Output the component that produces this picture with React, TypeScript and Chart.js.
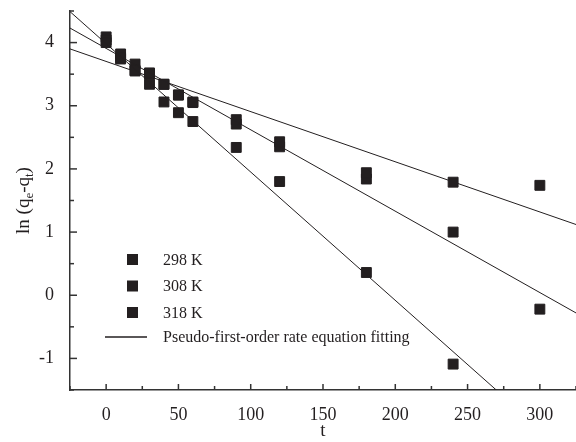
import { useEffect, useRef } from 'react';
import { Chart, registerables } from 'chart.js';

Chart.register(...registerables);

const times = [0, 10, 20, 30, 40, 50, 60, 90, 120, 180, 240, 300];
const times318 = [0, 10, 20, 30, 40, 50, 60, 90, 120, 180, 240];
const values298 = [4.0, 3.76, 3.56, 3.52, 3.34, 3.17, 3.06, 2.78, 2.43, 1.94, 1.79, 1.74];
const values308 = [4.04, 3.82, 3.66, 3.5, 3.34, 3.17, 3.05, 2.71, 2.35, 1.84, 1.0, -0.22];
const values318 = [4.09, 3.74, 3.55, 3.34, 3.06, 2.89, 2.75, 2.34, 1.8, 0.36, -1.09];

// fitted straight lines: value at x = -25 and at x = 325
const fitX = [-25, 325];
const fit298 = [3.9, 1.12];
const fit308 = [4.23, -0.28];
const fit318 = [4.49, -2.62];

const legendLabels = ['298 K', '308 K', '318 K'];
const fitLabel = 'Pseudo-first-order rate equation fitting';

const INK = '#231f20';
const FONT = '"Liberation Serif", "Times New Roman", serif';

const pts = (xs: number[], ys: number[]) => xs.map((x, i) => ({ x, y: ys[i] }));

const decorPlugin = {
  id: 'decor',
  afterDraw(chart: any) {
    const ctx = chart.ctx as CanvasRenderingContext2D;
    const xs = chart.scales.x;
    const ys = chart.scales.y;
    const area = chart.chartArea;
    ctx.save();
    ctx.strokeStyle = '#333';
    ctx.lineWidth = 1.5;
    xs.ticks.forEach((t: any) => {
      const px = xs.getPixelForValue(t.value);
      const major = Math.abs(t.value % 50) < 1e-6;
      const len = major ? 6 : 4;
      ctx.beginPath();
      ctx.moveTo(px, area.bottom);
      ctx.lineTo(px, area.bottom - len);
      ctx.stroke();
    });
    ys.ticks.forEach((t: any) => {
      const py = ys.getPixelForValue(t.value);
      const major = Math.abs(t.value - Math.round(t.value)) < 1e-6;
      const len = major ? 7 : 4;
      ctx.beginPath();
      ctx.moveTo(area.left, py);
      ctx.lineTo(area.left + len, py);
      ctx.stroke();
    });

    // x title
    ctx.fillStyle = INK;
    ctx.font = `19px ${FONT}`;
    ctx.textAlign = 'center';
    ctx.textBaseline = 'alphabetic';
    ctx.fillText('t', (area.left + area.right) / 2, 436);

    // y title with subscripts
    const parts: [string, boolean][] = [
      ['ln (q', false],
      ['e', true],
      ['-q', false],
      ['t', true],
      [')', false],
    ];
    const bigF = `19px ${FONT}`;
    const smallF = `13px ${FONT}`;
    let total = 0;
    parts.forEach(([s, sub]) => {
      ctx.font = sub ? smallF : bigF;
      total += ctx.measureText(s).width;
    });
    ctx.translate(29, (area.top + area.bottom) / 2);
    ctx.rotate(-Math.PI / 2);
    ctx.textAlign = 'left';
    let cx = -total / 2;
    parts.forEach(([s, sub]) => {
      ctx.font = sub ? smallF : bigF;
      ctx.fillText(s, cx, sub ? 4 : 0);
      cx += ctx.measureText(s).width;
    });
    ctx.setTransform(1, 0, 0, 1, 0, 0);

    // legend
    ctx.font = `16px ${FONT}`;
    ctx.textAlign = 'left';
    ctx.textBaseline = 'middle';
    const rows = [259.5, 286, 312.5];
    legendLabels.forEach((lab, i) => {
      ctx.fillStyle = INK;
      ctx.fillRect(127, rows[i] - 5.5, 11, 11);
      ctx.fillText(lab, 163, rows[i] + 1);
    });
    ctx.strokeStyle = INK;
    ctx.lineWidth = 1.5;
    ctx.beginPath();
    ctx.moveTo(105, 337);
    ctx.lineTo(147, 337);
    ctx.stroke();
    ctx.fillText(fitLabel, 163, 338);
    ctx.restore();
  },
};

export default function App() {
  const ref = useRef<HTMLCanvasElement | null>(null);
  useEffect(() => {
    document.body.style.margin = '0';
    if (!ref.current) return;
    const pointDs = (data: any) => ({
      type: 'scatter' as const,
      data,
      pointStyle: 'rect',
      pointRadius: 7,
      pointBackgroundColor: INK,
      pointBorderColor: INK,
      pointBorderWidth: 1,
      showLine: false,
    });
    const lineDs = (data: any) => ({
      type: 'scatter' as const,
      data,
      showLine: true,
      borderColor: INK,
      borderWidth: 1,
      pointRadius: 0,
      fill: false,
    });
    const chart = new Chart(ref.current, {
      type: 'scatter',
      data: {
        datasets: [
          lineDs(pts(fitX, fit298)),
          lineDs(pts(fitX, fit308)),
          lineDs(pts(fitX, fit318)),
          pointDs(pts(times, values298)),
          pointDs(pts(times, values308)),
          pointDs(pts(times318, values318)),
        ] as any,
      },
      options: {
        animation: false,
        responsive: false,
        layout: { autoPadding: false, padding: { top: 11, right: 0, left: 0, bottom: 0 } },
        plugins: { legend: { display: false }, tooltip: { enabled: false } },
        scales: {
          x: {
            type: 'linear',
            min: -25,
            max: 325,
            grid: { display: false },
            border: { display: true, color: '#333', width: 1.5 },
            afterFit: (s: any) => {
              s.height = 52;
              s.paddingLeft = 0;
              s.paddingRight = 0;
            },
            ticks: {
              stepSize: 25,
              autoSkip: false,
              maxRotation: 0,
              padding: 6,
              color: INK,
              font: { family: FONT, size: 18 },
              callback: (v: any) => (Math.abs(Number(v) % 50) < 1e-6 ? String(v) : ''),
            },
          },
          y: {
            type: 'linear',
            min: -1.5,
            max: 4.5,
            grid: { display: false },
            border: { display: true, color: '#333', width: 1.5 },
            afterFit: (s: any) => {
              s.width = 70;
              s.paddingTop = 0;
              s.paddingBottom = 0;
            },
            ticks: {
              stepSize: 0.5,
              autoSkip: false,
              padding: 8,
              color: INK,
              font: { family: FONT, size: 18 },
              callback: (v: any) => (Math.abs(Number(v) - Math.round(Number(v))) < 1e-6 ? String(v) : ''),
            },
          },
        },
      },
      plugins: [decorPlugin],
    });
    return () => chart.destroy();
  }, []);
  return <canvas ref={ref} width={576} height={442} style={{ display: 'block' }} />;
}
